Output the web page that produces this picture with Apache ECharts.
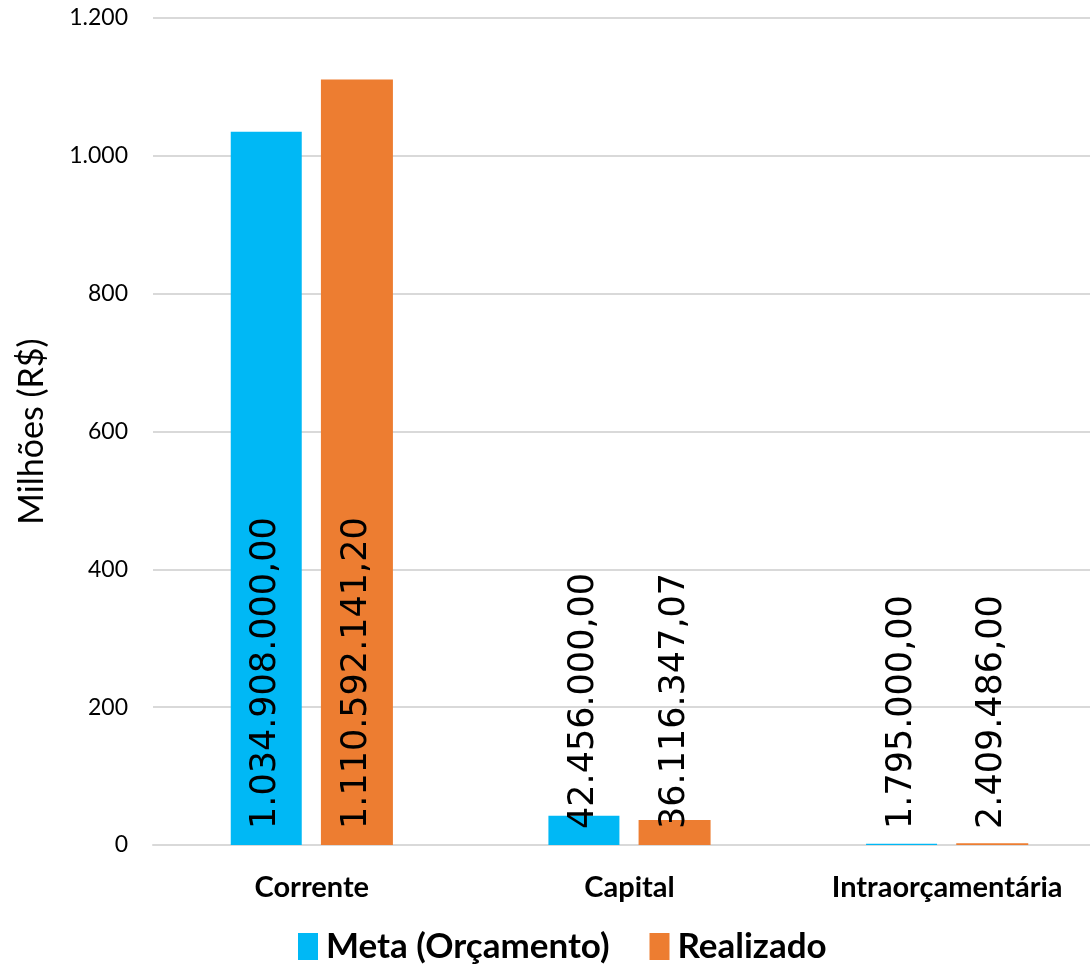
<!DOCTYPE html>
<html>
<head>
<meta charset="utf-8">
<script src="https://cdn.jsdelivr.net/npm/echarts@6/dist/echarts.min.js"></script>
<style>html,body{margin:0;padding:0;background:#fff;overflow:hidden}#c{width:1106px;height:969px}</style>
</head>
<body>
<div id="c"></div>
<script>
const categories = ['Corrente', 'Capital', 'Intraorçamentária'];
const metaValues = [1034908000.00, 42456000.00, 1795000.00];
const realizadoValues = [1110592141.20, 36116347.07, 2409486.00];
const yTicks = [0, 200, 400, 600, 800, 1000, 1200];

function brl(v) {
  const parts = v.toFixed(2).split('.');
  return parts[0].replace(/\B(?=(\d{3})+(?!\d))/g, '.') + ',' + parts[1];
}
function thousands(v) {
  return String(v).replace(/\B(?=(\d{3})+(?!\d))/g, '.');
}

const chart = echarts.init(document.getElementById('c'));
const labelCfg = {
  show: true,
  position: 'insideBottom',
  rotate: 90,
  align: 'left',
  verticalAlign: 'middle',
  distance: 16,
  fontFamily: 'DejaVu Sans',
  fontSize: 35,
  color: '#000',
  formatter: p => brl(p.data.raw)
};
chart.setOption({
  animation: false,
  textStyle: { fontFamily: 'Lato' },
  grid: { left: 153, right: 0, top: 18, bottom: 124 },
  legend: {
    bottom: 0,
    left: 293,
    itemWidth: 20,
    itemHeight: 27,
    itemGap: 40,
    icon: 'rect',
    textStyle: { fontSize: 35, fontWeight: 'bold', color: '#000', fontFamily: 'Lato', padding: [0, 0, 0, 3] },
    data: ['Meta (Orçamento)', 'Realizado']
  },
  xAxis: {
    type: 'category',
    data: categories,
    axisLine: { lineStyle: { color: '#d9d9d9', width: 2 } },
    axisTick: { show: false },
    axisLabel: { fontSize: 29, fontWeight: 'bold', color: '#000', margin: 28 }
  },
  yAxis: {
    type: 'value',
    min: yTicks[0],
    max: yTicks[yTicks.length - 1],
    interval: 200,
    name: 'Milhões (R$)',
    nameLocation: 'middle',
    nameGap: 104,
    nameTextStyle: { fontSize: 34, color: '#000' },
    axisLine: { show: false },
    axisTick: { show: false },
    axisLabel: { fontSize: 23, color: '#000', margin: 25, formatter: v => thousands(v) },
    splitLine: { lineStyle: { color: '#d9d9d9', width: 2 } }
  },
  series: [
    {
      name: 'Meta (Orçamento)',
      type: 'bar',
      barWidth: 71,
      barGap: '27%',
      itemStyle: { color: '#00B8F5' },
      label: labelCfg,
      data: metaValues.map(v => ({ value: v / 1e6, raw: v }))
    },
    {
      name: 'Realizado',
      type: 'bar',
      barWidth: 72,
      itemStyle: { color: '#ED7D31' },
      label: labelCfg,
      data: realizadoValues.map(v => ({ value: v / 1e6, raw: v }))
    }
  ]
});
</script>
</body>
</html>
